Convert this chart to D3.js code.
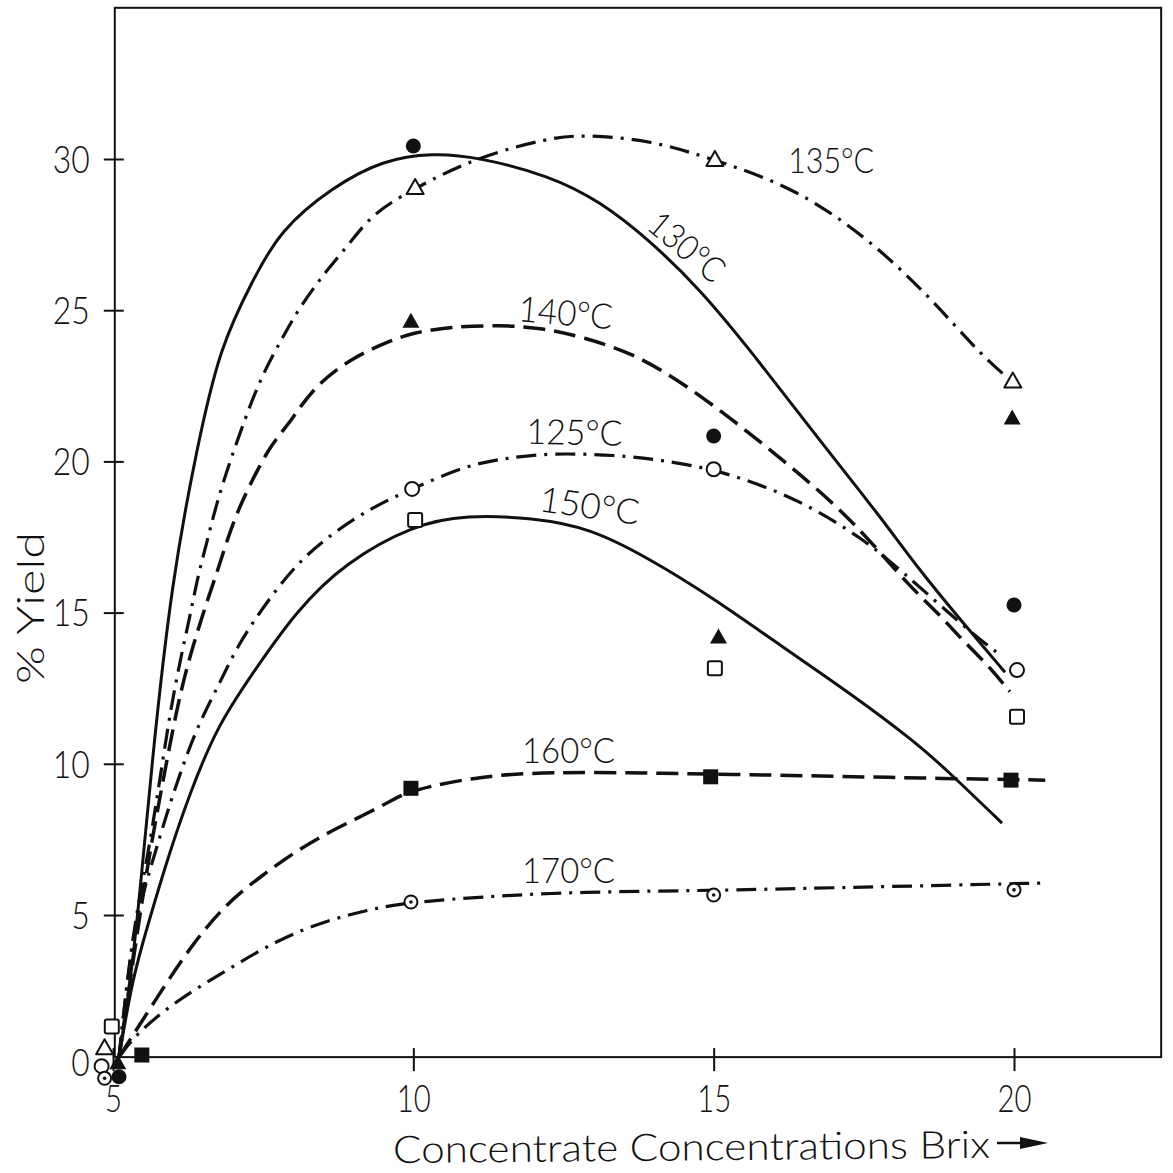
<!DOCTYPE html>
<html>
<head>
<meta charset="utf-8">
<script src="https://cdn.jsdelivr.net/npm/d3@7"></script>
<style>
  html, body { margin: 0; padding: 0; background: #fff; }
  svg text { font-family: Lato, "DejaVu Sans", sans-serif; font-weight: 300; fill: #111; }
</style>
</head>
<body>
<svg id="chart" width="1173" height="1173"></svg>
<script>
// ---- axis ticks ----
const xTicks = [5, 10, 15, 20];
const yTicks = [0, 5, 10, 15, 20, 25, 30];

// ---- fitted curves, [Brix, % yield] ----
const curve130 = [[5.10,0.30],[5.25,2.19],[5.42,5.07],[5.65,10.13],[5.98,16.08],[6.40,20.48],[6.78,23.79],
  [7.33,26.00],[7.78,27.65],[8.66,29.08],[9.49,29.97],[10.33,30.20],[11.06,30.07],[12.27,29.45],[13.11,28.60],
  [13.94,27.30],[14.77,25.70],[15.61,23.68],[16.72,20.81],[17.82,18.06],[18.38,16.51],[19.32,14.26],[19.85,13.03]];
const curve135 = [[5.10,0.30],[5.33,4.51],[5.57,6.82],[5.78,9.47],[6.00,12.35],[6.28,14.86],[6.41,16.18],
  [6.56,17.30],[6.78,19.06],[7.23,21.60],[7.50,22.93],[7.83,24.12],[8.11,25.11],[8.56,26.33],[8.95,27.23],
  [9.33,28.22],[10.03,29.04],[11.06,30.07],[12.27,30.70],[12.82,30.80],[13.94,30.64],[15.02,29.97],
  [16.32,29.08],[17.55,27.42],[18.60,25.44],[19.48,23.45],[19.98,22.63]];
const curve140 = [[5.10,0.30],[5.50,5.73],[5.67,7.71],[5.95,10.69],[6.20,13.11],[6.61,15.65],[6.73,16.31],
  [6.90,17.40],[7.11,18.56],[7.61,20.54],[7.90,21.14],[8.33,22.46],[9.00,23.46],[9.66,24.02],[9.99,24.25],
  [10.61,24.45],[11.44,24.51],[12.16,24.41],[12.82,24.11],[13.66,23.58],[14.49,22.59],[15.32,21.37],
  [16.15,20.05],[16.99,18.63],[17.55,17.50],[18.27,15.85],[18.73,15.00],[19.13,14.11],[19.55,13.30],[19.93,12.39]];
const curve125 = [[5.10,0.30],[5.20,2.19],[5.33,4.27],[5.50,5.73],[5.70,7.05],[5.90,8.38],[6.12,9.70],
  [6.40,11.22],[6.78,12.68],[7.06,13.86],[7.50,15.19],[8.06,16.64],[8.66,17.64],[9.33,18.50],[9.98,19.09],
  [10.89,19.88],[11.56,20.11],[12.27,20.28],[13.39,20.21],[14.11,20.05],[14.99,19.75],[15.89,19.16],
  [16.72,18.40],[17.49,17.41],[17.87,16.81],[18.48,15.76],[19.27,14.36],[19.77,13.60]];
const curve150 = [[5.10,0.30],[5.33,2.95],[5.57,4.60],[5.90,6.82],[6.28,9.04],[6.73,11.22],[7.28,12.87],
  [8.06,15.09],[8.86,16.64],[9.99,17.90],[10.89,18.23],[11.99,18.13],[12.94,17.80],[13.94,16.77],
  [14.94,15.55],[16.15,13.86],[17.27,12.34],[18.38,10.69],[18.93,9.70],[19.80,8.04]];
const curve160 = [[5.10,0.30],[5.78,2.42],[6.33,4.07],[6.90,5.40],[7.45,6.26],[8.00,7.05],[8.56,7.71],
  [9.11,8.24],[9.66,8.80],[9.94,9.12],[11.11,9.60],[12.27,9.73],[13.94,9.70],[16.72,9.60],[18.38,9.53],[20.52,9.46]];
const curve170 = [[5.10,0.30],[5.40,1.10],[6.07,2.19],[6.90,3.18],[7.73,4.17],[8.56,4.83],[9.39,5.23],
  [9.94,5.43],[12.27,5.76],[14.77,5.80],[16.72,5.89],[18.38,5.96],[20.52,6.06]];

// ---- measured points, [Brix, % yield] ----
const points130 = [[5.10,-0.35],[10.0,30.43],[15.0,20.84],[20.0,15.25]];
const points135 = [[4.86,0.59],[10.03,29.04],[15.02,29.97],[19.98,22.64]];
const points140 = [[5.08,0.10],[9.96,24.62],[15.08,14.18],[19.97,21.42]];
const points125 = [[4.81,0.00],[9.98,19.09],[15.0,19.74],[20.05,13.10]];
const points150 = [[4.98,1.31],[10.03,18.06],[15.02,13.16],[20.05,11.56]];
const points160 = [[5.48,0.37],[9.96,9.19],[14.95,9.57],[19.95,9.46]];
const points170 = [[4.86,-0.40],[9.96,5.43],[15.0,5.66],[20.0,5.83]];

// ---- series names ----
const temperatures = ["130°C", "135°C", "140°C", "125°C", "150°C", "160°C", "170°C"];

const svg = d3.select("#chart");
const x = d3.scaleLinear().domain([5, 20]).range([113, 1014]);
const y = d3.scaleLinear().domain([5, 30]).range([915, 159]);

// plot frame
const fx0 = x(5.03), fx1 = x(22.45), fy0 = y(35), fy1 = y(0.3);
svg.append("rect")
  .attr("x", fx0).attr("y", fy0)
  .attr("width", fx1 - fx0).attr("height", fy1 - fy0)
  .attr("fill", "none").attr("stroke", "#111").attr("stroke-width", 2);

// y axis with crossing ticks
const gy = svg.append("g").attr("transform", `translate(${fx0},0)`)
  .call(d3.axisLeft(y).tickValues(yTicks).tickSize(0).tickPadding(25));
gy.select(".domain").remove();
gy.selectAll(".tick").each(function(d) {
  const t = d3.select(this);
  if (d !== 0) {
    t.append("line").attr("x1", -11).attr("x2", 9)
      .attr("stroke", "#111").attr("stroke-width", 2);
  }
  t.select("text")
    .attr("font-size", 38)
    .attr("textLength", String(d).length * 18.5)
    .attr("lengthAdjust", "spacingAndGlyphs")
    .attr("dy", d === 0 ? "0.25em" : "0.35em");
});

// x axis with crossing ticks
const gx = svg.append("g").attr("transform", `translate(0,${fy1})`)
  .call(d3.axisBottom(x).tickValues(xTicks).tickSize(0).tickPadding(28));
gx.select(".domain").remove();
gx.selectAll(".tick").each(function(d) {
  const t = d3.select(this);
  t.append("line").attr("y1", -9).attr("y2", 14)
    .attr("stroke", "#111").attr("stroke-width", 2);
  t.select("text")
    .attr("font-size", 38)
    .attr("textLength", String(d).length * 17)
    .attr("lengthAdjust", "spacingAndGlyphs");
});
svg.selectAll(".tick text").attr("fill", "#111").style("font-family", "Lato, 'DejaVu Sans', sans-serif").style("font-weight", 300);

// axis titles
svg.append("text")
  .attr("transform", "translate(44,684) rotate(-90)")
  .attr("font-size", 38)
  .attr("textLength", 152).attr("lengthAdjust", "spacingAndGlyphs")
  .text("% Yield");

svg.append("text")
  .attr("x", 393).attr("y", 1163)
  .attr("font-size", 38)
  .attr("textLength", 597).attr("lengthAdjust", "spacingAndGlyphs")
  .attr("transform", "rotate(-0.5,393,1163)")
  .text("Concentrate Concentrations Brix");
// arrow after the title
svg.append("line").attr("x1", 997).attr("x2", 1026).attr("y1", 1143).attr("y2", 1143)
  .attr("stroke", "#111").attr("stroke-width", 2.5);
svg.append("path").attr("d", "M1020,1137 L1048,1143 L1020,1149 Z").attr("fill", "#111");

// curve styling
const styles = {
  solid:   { dash: null,         width: 3 },
  dashed:  { dash: "22,9",       width: 3.5 },
  dashdot: { dash: "20,8,3,8",   width: 3.2 }
};

const series = [
  { name: temperatures[0], curve: curve130, points: points130, line: "solid",   marker: "dot" },
  { name: temperatures[1], curve: curve135, points: points135, line: "dashdot", marker: "tri" },
  { name: temperatures[2], curve: curve140, points: points140, line: "dashed",  marker: "triF" },
  { name: temperatures[3], curve: curve125, points: points125, line: "dashdot", marker: "circle" },
  { name: temperatures[4], curve: curve150, points: points150, line: "solid",   marker: "sq" },
  { name: temperatures[5], curve: curve160, points: points160, line: "dashed",  marker: "sqF" },
  { name: temperatures[6], curve: curve170, points: points170, line: "dashdot", marker: "dotCircle" }
];

const lineGen = d3.line()
  .x(d => x(d[0])).y(d => y(d[1]))
  .curve(d3.curveBasis);

const gLines = svg.append("g");
series.forEach(s => {
  const st = styles[s.line];
  gLines.append("path")
    .datum(s.curve)
    .attr("d", lineGen)
    .attr("fill", "none")
    .attr("stroke", "#111")
    .attr("stroke-width", st.width)
    .attr("stroke-dasharray", st.dash)
    .attr("stroke-linejoin", "round");
});

// markers
function drawMarker(g, type, cx, cy) {
  const ink = "#111";
  switch (type) {
    case "dot":
      g.append("circle").attr("cx", cx).attr("cy", cy).attr("r", 7.5).attr("fill", ink);
      break;
    case "circle":
      g.append("circle").attr("cx", cx).attr("cy", cy).attr("r", 7)
        .attr("fill", "#fff").attr("stroke", ink).attr("stroke-width", 2);
      break;
    case "dotCircle":
      g.append("circle").attr("cx", cx).attr("cy", cy).attr("r", 6.5)
        .attr("fill", "#fff").attr("stroke", ink).attr("stroke-width", 2);
      g.append("circle").attr("cx", cx).attr("cy", cy).attr("r", 1.8).attr("fill", ink);
      break;
    case "tri":
      g.append("path").attr("d", `M${cx},${cy - 9} L${cx + 8.5},${cy + 6} L${cx - 8.5},${cy + 6} Z`)
        .attr("fill", "#fff").attr("stroke", ink).attr("stroke-width", 2).attr("stroke-linejoin", "round");
      break;
    case "triF":
      g.append("path").attr("d", `M${cx},${cy - 9} L${cx + 8.5},${cy + 6} L${cx - 8.5},${cy + 6} Z`)
        .attr("fill", ink);
      break;
    case "sq":
      g.append("rect").attr("x", cx - 7).attr("y", cy - 7).attr("width", 14).attr("height", 14)
        .attr("rx", 2).attr("fill", "#fff").attr("stroke", ink).attr("stroke-width", 2);
      break;
    case "sqF":
      g.append("rect").attr("x", cx - 7.5).attr("y", cy - 7.5).attr("width", 15).attr("height", 15)
        .attr("fill", ink);
      break;
  }
}
const gMarks = svg.append("g");
series.forEach(s => {
  s.points.forEach(p => drawMarker(gMarks, s.marker, x(p[0]), y(p[1])));
});

// curve labels: anchor in data units, angle in degrees, drawn width in px
const labelPlacement = [
  { name: "135°C", at: [16.24, 29.54], angle: 0,  width: 86 },
  { name: "130°C", at: [13.86, 27.72], angle: 40, width: 88 },
  { name: "140°C", at: [11.74, 24.64], angle: 5,  width: 94 },
  { name: "125°C", at: [11.88, 20.58], angle: 1,  width: 96 },
  { name: "150°C", at: [12.08, 18.36], angle: 8,  width: 100 },
  { name: "160°C", at: [11.81, 10.03], angle: 0,  width: 93 },
  { name: "170°C", at: [11.81, 6.06],  angle: 0,  width: 93 }
];
labelPlacement.forEach(l => {
  const px = x(l.at[0]), py = y(l.at[1]);
  svg.append("text")
    .attr("transform", `translate(${px},${py}) rotate(${l.angle})`)
    .attr("font-size", 35)
    .attr("textLength", l.width).attr("lengthAdjust", "spacingAndGlyphs")
    .text(l.name);
});
</script>
</body>
</html>
